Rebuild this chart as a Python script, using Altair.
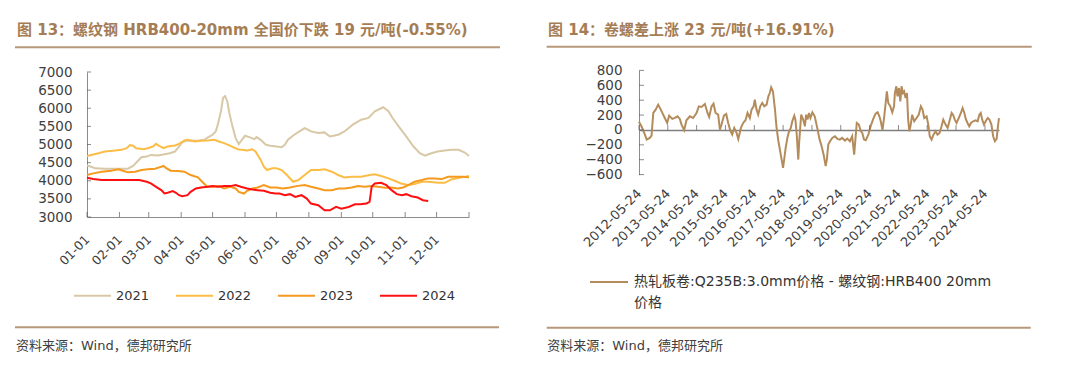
import json
import altair as alt
import pandas as pd

# ---------------- Figure 13: rebar HRB400-20mm national price ----------------
title_left = "图 13：螺纹钢 HRB400-20mm 全国价下跌 19 元/吨(-0.55%)"
years = ["2021", "2022", "2023", "2024"]
year_colors = ["#d8c8a6", "#fcbd47", "#f59a1f", "#ff1010"]
month_tick_days = [0, 31, 59, 90, 120, 151, 181, 212, 243, 273, 304, 334]
month_tick_labels = ["01-01", "02-01", "03-01", "04-01", "05-01", "06-01",
                     "07-01", "08-01", "09-01", "10-01", "11-01", "12-01"]
left_y_ticks = [3000, 3500, 4000, 4500, 5000, 5500, 6000, 6500, 7000]

day_2021 = [0, 2, 8, 17, 30, 39, 44, 52, 57, 61, 68, 74, 79, 84, 88, 91, 95, 106, 112, 116,
            120, 123, 125, 128, 130, 132, 134, 136, 139, 142, 145, 148, 151, 155, 160, 162,
            166, 171, 175, 181, 186, 189, 192, 198, 203, 208, 211, 214, 221, 227, 232, 240,
            246, 254, 262, 269, 275, 283, 288, 292, 299, 305, 312, 318, 323, 329, 335, 342,
            348, 355, 361, 365]
price_2021 = [4420, 4408, 4343, 4333, 4333, 4333, 4408, 4648, 4667, 4713, 4695, 4732, 4759,
              4806, 4945, 5056, 5111, 5102, 5130, 5204, 5269, 5361, 5547, 5917, 6287, 6334,
              6195, 5871, 5500, 5176, 5009, 5130, 5241, 5204, 5148, 5204, 5130, 4991, 4963,
              4945, 4926, 4991, 5130, 5269, 5361, 5454, 5408, 5361, 5315, 5334, 5222, 5269,
              5361, 5547, 5685, 5732, 5917, 6028, 5917, 5732, 5454, 5222, 4945, 4759, 4695,
              4759, 4806, 4833, 4852, 4852, 4778, 4685]

day_2022 = [0, 4, 11, 17, 27, 33, 38, 41, 44, 47, 54, 58, 63, 66, 69, 73, 77, 84, 88, 93,
            96, 103, 109, 115, 122, 126, 131, 137, 144, 148, 153, 158, 161, 166, 169, 172,
            177, 181, 186, 191, 197, 202, 208, 214, 221, 227, 234, 240, 246, 253, 262, 270,
            275, 281, 288, 294, 300, 307, 313, 320, 326, 336, 342, 348, 358, 365]
price_2022 = [4685, 4713, 4759, 4806, 4833, 4852, 4898, 4982, 4965, 4898, 4870, 4898, 4945,
              5019, 4963, 4898, 4945, 4972, 5019, 5111, 5130, 5083, 5102, 5111, 5130, 5083,
              5037, 4963, 4870, 4852, 4833, 4870, 4806, 4574, 4389, 4296, 4343, 4343, 4296,
              4157, 3972, 4019, 4157, 4296, 4296, 4315, 4250, 4157, 4093, 4111, 4111, 4157,
              4176, 4130, 4065, 4000, 3926, 3880, 3907, 3972, 3972, 3944, 3944, 4037, 4093,
              4130]

day_2023 = [0, 6, 14, 23, 30, 35, 39, 46, 52, 58, 65, 69, 73, 76, 80, 87, 93, 99, 106, 110,
            115, 120, 126, 131, 137, 142, 145, 150, 153, 158, 163, 169, 175, 181, 187, 194,
            200, 208, 214, 221, 227, 234, 240, 246, 253, 259, 265, 272, 278, 285, 291, 297,
            302, 307, 313, 320, 326, 332, 339, 345, 353, 359, 365]
price_2023 = [4157, 4204, 4250, 4278, 4315, 4269, 4232, 4250, 4296, 4315, 4333, 4370, 4408,
              4343, 4278, 4269, 4250, 4157, 4093, 3972, 3833, 3833, 3852, 3787, 3833, 3787,
              3694, 3648, 3722, 3787, 3815, 3880, 3815, 3815, 3787, 3815, 3852, 3880, 3833,
              3787, 3741, 3741, 3787, 3787, 3815, 3852, 3833, 3852, 3833, 3806, 3815, 3787,
              3815, 3880, 3972, 4019, 4065, 4065, 4046, 4111, 4111, 4111, 4093]

day_2024 = [0, 6, 14, 23, 33, 42, 50, 57, 61, 66, 71, 74, 77, 82, 85, 88, 91, 96, 99, 104,
            109, 115, 120, 125, 131, 137, 142, 147, 153, 158, 163, 169, 175, 180, 184, 189,
            194, 199, 205, 210, 214, 221, 227, 232, 238, 243, 250, 256, 261, 267, 270, 272,
            275, 281, 286, 291, 296, 301, 305, 310, 316, 321, 326]
price_2024 = [4083, 4046, 4019, 4019, 4019, 4019, 4019, 3972, 3926, 3833, 3741, 3648, 3667,
              3713, 3667, 3602, 3574, 3602, 3694, 3787, 3815, 3833, 3852, 3833, 3852, 3852,
              3880, 3833, 3787, 3759, 3741, 3722, 3667, 3648, 3650, 3602, 3630, 3555, 3602,
              3509, 3370, 3324, 3185, 3185, 3278, 3231, 3278, 3352, 3352, 3370, 3417, 3833,
              3926, 3944, 3880, 3741, 3630, 3602, 3630, 3574, 3537, 3463, 3444]

# ---------------- Figure 14: HRC - rebar spread ----------------
title_right = "图 14：卷螺差上涨 23 元/吨(+16.91%)"
spread_name_lines = ["热轧板卷:Q235B:3.0mm价格 - 螺纹钢:HRB400 20mm", "价格"]
spread_color = "#b48c5c"
right_tick_labels = ["2012-05-24", "2013-05-24", "2014-05-24", "2015-05-24", "2016-05-24",
                     "2017-05-24", "2018-05-24", "2019-05-24", "2020-05-24", "2021-05-24",
                     "2022-05-24", "2023-05-24", "2024-05-24"]
right_y_ticks = [-600, -400, -200, 0, 200, 400, 600, 800]

spread_time = [2012.393, 2012.48, 2012.60, 2012.66, 2012.77, 2012.83, 2012.89, 2012.97, 2013.06,
               2013.15, 2013.29, 2013.37, 2013.44, 2013.55, 2013.64, 2013.73, 2013.81, 2013.87,
               2013.96, 2014.04, 2014.16, 2014.27, 2014.39, 2014.47, 2014.56, 2014.68, 2014.77,
               2014.83, 2014.91, 2014.98, 2015.05, 2015.14, 2015.20, 2015.26, 2015.34, 2015.42,
               2015.49, 2015.57, 2015.63, 2015.70, 2015.78, 2015.84, 2015.93, 2016.01, 2016.09,
               2016.16, 2016.24, 2016.30, 2016.37, 2016.41, 2016.47, 2016.53, 2016.60, 2016.67,
               2016.74, 2016.82, 2016.88, 2016.93, 2016.98, 2017.04, 2017.11, 2017.16, 2017.22,
               2017.28, 2017.34, 2017.39, 2017.43, 2017.48, 2017.54, 2017.59, 2017.66, 2017.71,
               2017.78, 2017.82, 2017.87, 2017.92, 2017.95, 2017.99, 2018.02, 2018.09, 2018.15,
               2018.19, 2018.24, 2018.29, 2018.34, 2018.41, 2018.49, 2018.59, 2018.66, 2018.73,
               2018.80, 2018.87, 2018.91, 2018.96, 2019.02, 2019.10, 2019.19, 2019.28, 2019.36,
               2019.44, 2019.54, 2019.62, 2019.71, 2019.79, 2019.86, 2019.91, 2019.95, 2020.02,
               2020.09, 2020.14, 2020.20, 2020.26, 2020.35, 2020.43, 2020.51, 2020.60, 2020.67,
               2020.73, 2020.78, 2020.84, 2020.90, 2020.95, 2020.99, 2021.04, 2021.11, 2021.18,
               2021.24, 2021.27, 2021.32, 2021.36, 2021.41, 2021.46, 2021.50, 2021.55, 2021.59,
               2021.64, 2021.69, 2021.73, 2021.77, 2021.81, 2021.87, 2021.94, 2022.02, 2022.10,
               2022.17, 2022.23, 2022.29, 2022.37, 2022.43, 2022.48, 2022.54, 2022.61, 2022.68,
               2022.75, 2022.82, 2022.89, 2022.95, 2023.03, 2023.10, 2023.18, 2023.24, 2023.29,
               2023.35, 2023.41, 2023.49, 2023.56, 2023.62, 2023.68, 2023.73, 2023.79, 2023.85,
               2023.91, 2023.99, 2024.07, 2024.14, 2024.20, 2024.25, 2024.30, 2024.36, 2024.42,
               2024.49, 2024.55, 2024.62, 2024.68, 2024.74, 2024.80, 2024.85, 2024.88]
spread_value = [110, 49, -63, -130, -107, -76, 228, 273, 340, 273, 161, 94, 192, 148, 161, 183,
                148, 72, -4, 130, 183, 161, 228, 317, 308, 349, 228, 174, 317, 353, 228, 205, 4,
                72, 192, 214, 94, -18, -63, 27, -40, -121, 27, 94, 130, 228, 161, 273, 317, 407,
                273, 205, 317, 362, 317, 340, 451, 496, 572, 518, 273, 49, -130, -264, -398,
                -510, -398, -241, -107, -31, 27, 116, 192, 139, -85, -398, -174, 49, 205, 139,
                49, 205, 139, 228, 161, 237, 183, 4, -130, -219, -331, -487, -398, -197, -152,
                -107, -85, -121, -130, -107, -143, -116, -152, -85, -331, -85, 94, 72, -18, -40,
                -130, -139, -63, 49, 139, 219, 237, 183, 116, -4, 183, 362, 518, 362, 317, 237,
                317, 496, 586, 451, 563, 384, 586, 496, 518, 429, 496, 139, -18, 49, 205, 116,
                161, 205, 317, 273, 161, 183, 72, -85, -130, -63, -18, -63, -40, 49, 139, 72, 27,
                139, 228, 205, 139, 94, 161, 228, 295, 228, 147, 94, 49, 94, 116, 130, 116, 205,
                228, 139, 72, 116, 161, 139, 72, -85, -152, -121, 72, 160]

source_text = "资料来源：Wind，德邦研究所"

# ---------------- styling constants ----------------
W, H = 1064, 352
FONT = "'DejaVu Sans', 'Noto Sans CJK SC'"
TITLE_COLOR = "#a57d55"
RULE_COLOR = "#b8987a"
LABEL_COLOR = "#404040"
AXIS_COLOR = "#8c8c8c"
TICK_COLOR = "#595959"


def dec_to_date(t):
    y = int(t)
    start = pd.Timestamp(year=y, month=1, day=1)
    n = (pd.Timestamp(year=y + 1, month=1, day=1) - start).days
    return (start + pd.Timedelta(days=(t - y) * n)).strftime("%Y-%m-%d")


def ms(d):
    return int(pd.Timestamp(d).value // 10**6)


# ---------------- left panel ----------------
left_df = pd.concat([
    pd.DataFrame({"day": d, "price": p, "year": y})
    for d, p, y in [(day_2021, price_2021, "2021"), (day_2022, price_2022, "2022"),
                    (day_2023, price_2023, "2023"), (day_2024, price_2024, "2024")]
], ignore_index=True)


def xs_l():
    return alt.Scale(domain=[0, 365], range=[79, 461], nice=False, zero=False)


def ys_l():
    return alt.Scale(domain=[3000, 7000], range=[209, 64], nice=False, zero=False)


month_expr = f"{json.dumps(month_tick_labels)}[indexof({json.dumps(month_tick_days)}, datum.value)]"

lines_l = alt.Chart(left_df).mark_line(strokeWidth=2).encode(
    x=alt.X("day:Q", scale=xs_l(),
            axis=alt.Axis(orient="bottom", offset=209 - H, values=month_tick_days,
                          labelExpr=month_expr, labelAngle=315, labelAlign="right",
                          labelBaseline="middle", labelPadding=20, labelFontSize=12.5,
                          ticks=False, labelOverlap=False, labelFlush=False, title=None)),
    y=alt.Y("price:Q", scale=ys_l(),
            axis=alt.Axis(orient="left", offset=-79, values=left_y_ticks, format="d",
                          labelPadding=15, labelFontSize=13.5, ticks=False,
                          labelOverlap=False, labelFlush=False, title=None)),
    color=alt.Color("year:N", scale=alt.Scale(domain=years, range=year_colors),
                    legend=alt.Legend(orient="none", legendX=65, legendY=268, direction="horizontal",
                                      title=None, symbolType="stroke", symbolSize=1369,
                                      symbolStrokeWidth=2, labelFontSize=13, labelFont=FONT,
                                      labelColor="#333333", columnPadding=22, labelOffset=4,
                                      padding=0)),
)

ytick_l = alt.Chart(pd.DataFrame({"v": left_y_ticks})).mark_tick(
    orient="horizontal", size=4, thickness=1, color=TICK_COLOR, xOffset=2).encode(
    x=alt.X(datum=0, type="quantitative", scale=xs_l(), axis=None),
    y=alt.Y("v:Q", scale=ys_l(), axis=None))

xtick_l = alt.Chart(pd.DataFrame({"d": month_tick_days + [365]})).mark_tick(
    orient="vertical", size=5, thickness=1, color=TICK_COLOR, yOffset=-2.5).encode(
    x=alt.X("d:Q", scale=xs_l(), axis=None),
    y=alt.Y(datum=3000, type="quantitative", scale=ys_l(), axis=None))

# ---------------- right panel ----------------
right_df = pd.DataFrame({"date": [dec_to_date(t) for t in spread_time], "v": spread_value})


def xs_r():
    return alt.Scale(type="utc", domain=[ms(right_tick_labels[0]), ms(right_df["date"].iloc[-1])],
                     range=[631, 991], nice=False)


def ys_r():
    return alt.Scale(domain=[-600, 800], range=[166.6, 62.4], nice=False, zero=False)


line_r = alt.Chart(right_df).mark_line(color=spread_color, strokeWidth=2).encode(
    x=alt.X("date:T", scale=xs_r(),
            axis=alt.Axis(orient="bottom", offset=122 - H, values=[ms(d) for d in right_tick_labels],
                          format="%Y-%m-%d", labelAngle=315, labelAlign="right",
                          labelBaseline="middle", labelPadding=61, labelFontSize=13,
                          ticks=False, domainColor="#7f7f7f", domainWidth=1.5,
                          labelOverlap=False, labelFlush=False, title=None)),
    y=alt.Y("v:Q", scale=ys_r(),
            axis=alt.Axis(orient="left", offset=-631, values=right_y_ticks, format="d",
                          labelPadding=17, labelFontSize=13.5, ticks=False,
                          labelOverlap=False, labelFlush=False, title=None)),
)

ytick_r = alt.Chart(pd.DataFrame({"v": right_y_ticks})).mark_tick(
    orient="horizontal", size=5, thickness=1, color=TICK_COLOR, xOffset=2.5).encode(
    x=alt.X(datum=ms(right_tick_labels[0]), type="temporal", scale=xs_r(), axis=None),
    y=alt.Y("v:Q", scale=ys_r(), axis=None))

xtick_r = alt.Chart(pd.DataFrame({"d": right_tick_labels})).mark_tick(
    orient="vertical", size=5, thickness=1, color=TICK_COLOR, yOffset=-2.5).encode(
    x=alt.X("d:T", scale=xs_r(), axis=None),
    y=alt.Y(datum=0, type="quantitative", scale=ys_r(), axis=None))

# ---------------- decorations (titles, rules, legend for right, sources) ----------------
one = pd.DataFrame({"k": [0]})


def text_layer(txt, x, y, size, color, weight="normal", line_height=None):
    kw = dict(align="left", baseline="middle", font=FONT, fontSize=size, color=color,
              fontWeight=weight, lineBreak="\n")
    if line_height:
        kw["lineHeight"] = line_height
    return alt.Chart(pd.DataFrame({"t": [txt]})).mark_text(**kw).encode(
        x=alt.value(x), y=alt.value(y), text="t:N")


def rule_layer(x1, x2, y, color, width):
    return alt.Chart(one).mark_rule(color=color, strokeWidth=width).encode(
        x=alt.value(x1), x2=alt.value(x2), y=alt.value(y))


decor = [
    text_layer(title_left, 9, 21.5, 15, TITLE_COLOR, "bold"),
    text_layer(title_right, 540, 21.5, 15, TITLE_COLOR, "bold"),
    rule_layer(7, 492, 39.2, RULE_COLOR, 2),
    rule_layer(538.7, 1023.7, 38.7, RULE_COLOR, 2),
    rule_layer(7, 491, 319.3, RULE_COLOR, 2),
    rule_layer(538.7, 1022.7, 319.7, RULE_COLOR, 2),
    text_layer(source_text, 8, 338, 13, LABEL_COLOR),
    text_layer(source_text, 539.3, 337.5, 13, LABEL_COLOR),
    rule_layer(582, 620, 274, spread_color, 2),
    text_layer("\n".join(spread_name_lines), 626, 274, 14, "#333333", line_height=21),
]

chart = alt.layer(lines_l, ytick_l, xtick_l, line_r, ytick_r, xtick_r, *decor).resolve_scale(
    x="independent", y="independent", color="independent"
).resolve_axis(
    x="independent", y="independent"
).properties(
    width=W, height=H, autosize=alt.AutoSizeParams(type="none"), padding=0, background="white"
).configure_view(
    stroke=None
).configure_axis(
    grid=False, labelFont=FONT, labelColor=LABEL_COLOR, domainColor=AXIS_COLOR, domainWidth=1
)

chart.save("out.html", embed_options={"renderer": "svg", "actions": False})
